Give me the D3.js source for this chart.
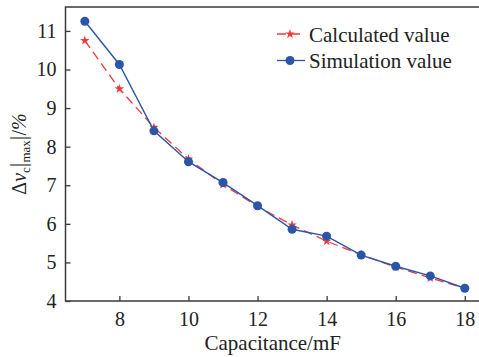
<!DOCTYPE html>
<html>
<head>
<meta charset="utf-8">
<script src="https://cdn.jsdelivr.net/npm/d3@7"></script>
<style>
  body { margin: 0; background: #fff; }
  svg { display: block; font-family: "Liberation Serif", "Times New Roman", serif; }
</style>
</head>
<body>
<svg id="chart" width="479" height="357"></svg>
<script>
const capacitance = [7, 8, 9, 10, 11, 12, 13, 14, 15, 16, 17, 18]
const calculated = [10.75, 9.5, 8.5, 7.68, 7.02, 6.45, 5.97, 5.55, 5.2, 4.88, 4.6, 4.33]
const simulation = [11.25, 10.13, 8.41, 7.61, 7.07, 6.47, 5.86, 5.68, 5.19, 4.9, 4.65, 4.33]
const xTicks = [8, 10, 12, 14, 16, 18]
const yTicks = [4, 5, 6, 7, 8, 9, 10, 11]
const legendNames = ['Calculated value', 'Simulation value']

const red = '#ee3a3a'
const blue = '#2b56a8'
const axisColor = '#3a3a3a'

const svg = d3.select('#chart')
const margin = { left: 65.5, top: 7, right: -1, bottom: 56 }
const W = 479, H = 357

const x = d3.scaleLinear().domain([6.44, 18.44]).range([margin.left, W - margin.right])
const y = d3.scaleLinear().domain([4, 11.62]).range([H - margin.bottom, margin.top])

// frame
svg.append('rect')
  .attr('x', margin.left)
  .attr('y', margin.top)
  .attr('width', x.range()[1] - margin.left)
  .attr('height', y.range()[0] - margin.top)
  .attr('fill', 'none')
  .attr('stroke', axisColor)
  .attr('stroke-width', 1.5)

const xAxis = svg.append('g')
  .attr('transform', 'translate(0,' + y.range()[0] + ')')
  .call(d3.axisBottom(x).tickValues(xTicks).tickSize(-5).tickPadding(11))
xAxis.select('.domain').remove()
xAxis.selectAll('line').attr('stroke', axisColor).attr('stroke-width', 1.3)
xAxis.selectAll('text').attr('font-size', 20).attr('fill', '#222').attr('font-family', 'Liberation Serif')

const yAxis = svg.append('g')
  .attr('transform', 'translate(' + margin.left + ',0)')
  .call(d3.axisLeft(y).tickValues(yTicks).tickSize(-5).tickPadding(9))
yAxis.select('.domain').remove()
yAxis.selectAll('line').attr('stroke', axisColor).attr('stroke-width', 1.3)
yAxis.selectAll('text').attr('font-size', 20).attr('fill', '#222').attr('font-family', 'Liberation Serif')

// axis titles
svg.append('text')
  .attr('x', (margin.left + x.range()[1]) / 2)
  .attr('y', 350)
  .attr('text-anchor', 'middle')
  .attr('font-size', 21)
  .attr('fill', '#222')
  .text('Capacitance/mF')

const yl = svg.append('text')
  .attr('transform', 'translate(26,' + ((margin.top + y.range()[0]) / 2) + ') rotate(-90)')
  .attr('text-anchor', 'middle')
  .attr('font-size', 20)
  .attr('fill', '#222')
yl.append('tspan').text('Δ')
yl.append('tspan').attr('font-style', 'italic').text('v')
yl.append('tspan').attr('font-size', 13).attr('dy', 4).text('c')
yl.append('tspan').attr('dy', -4).attr('font-size', 23).text('|')
yl.append('tspan').attr('font-size', 13).attr('dy', 4).text('max')
yl.append('tspan').attr('dy', -4).attr('font-size', 23).text('|')
yl.append('tspan').text('/')
yl.append('tspan').attr('font-style', 'italic').text('%')

const pts = (vals) => capacitance.map((c, i) => [c, vals[i]])
const line = d3.line().x(d => x(d[0])).y(d => y(d[1]))
const star = d3.symbol().type(d3.symbolStar).size(28)

// calculated
svg.append('path')
  .datum(pts(calculated))
  .attr('d', line)
  .attr('fill', 'none')
  .attr('stroke', red)
  .attr('stroke-width', 1.3)
  .attr('stroke-dasharray', '9,5')
svg.selectAll('.star')
  .data(pts(calculated))
  .enter().append('path')
  .attr('class', 'star')
  .attr('transform', d => 'translate(' + x(d[0]) + ',' + y(d[1]) + ')')
  .attr('d', star)
  .attr('fill', red)

// simulation
svg.append('path')
  .datum(pts(simulation))
  .attr('d', line)
  .attr('fill', 'none')
  .attr('stroke', blue)
  .attr('stroke-width', 1.4)
svg.selectAll('.dot')
  .data(pts(simulation))
  .enter().append('circle')
  .attr('class', 'dot')
  .attr('cx', d => x(d[0]))
  .attr('cy', d => y(d[1]))
  .attr('r', 4.5)
  .attr('fill', blue)

// legend
const lg = svg.append('g')
const rows = [
  { name: legendNames[0], color: red, dash: '9,5', mark: 'star', y: 34 },
  { name: legendNames[1], color: blue, dash: null, mark: 'circle', y: 60.5 }
]
rows.forEach(r => {
  lg.append('line')
    .attr('x1', 277).attr('x2', 305)
    .attr('y1', r.y).attr('y2', r.y)
    .attr('stroke', r.color)
    .attr('stroke-width', 1.3)
    .attr('stroke-dasharray', r.dash)
  if (r.mark === 'star') {
    lg.append('path')
      .attr('transform', 'translate(290,' + r.y + ')')
      .attr('d', star)
      .attr('fill', r.color)
  } else {
    lg.append('circle').attr('cx', 290).attr('cy', r.y).attr('r', 4.5).attr('fill', r.color)
  }
  lg.append('text')
    .attr('x', 309)
    .attr('y', r.y + 7.5)
    .attr('font-size', 21)
    .attr('fill', '#222')
    .text(r.name)
})
</script>
</body>
</html>
